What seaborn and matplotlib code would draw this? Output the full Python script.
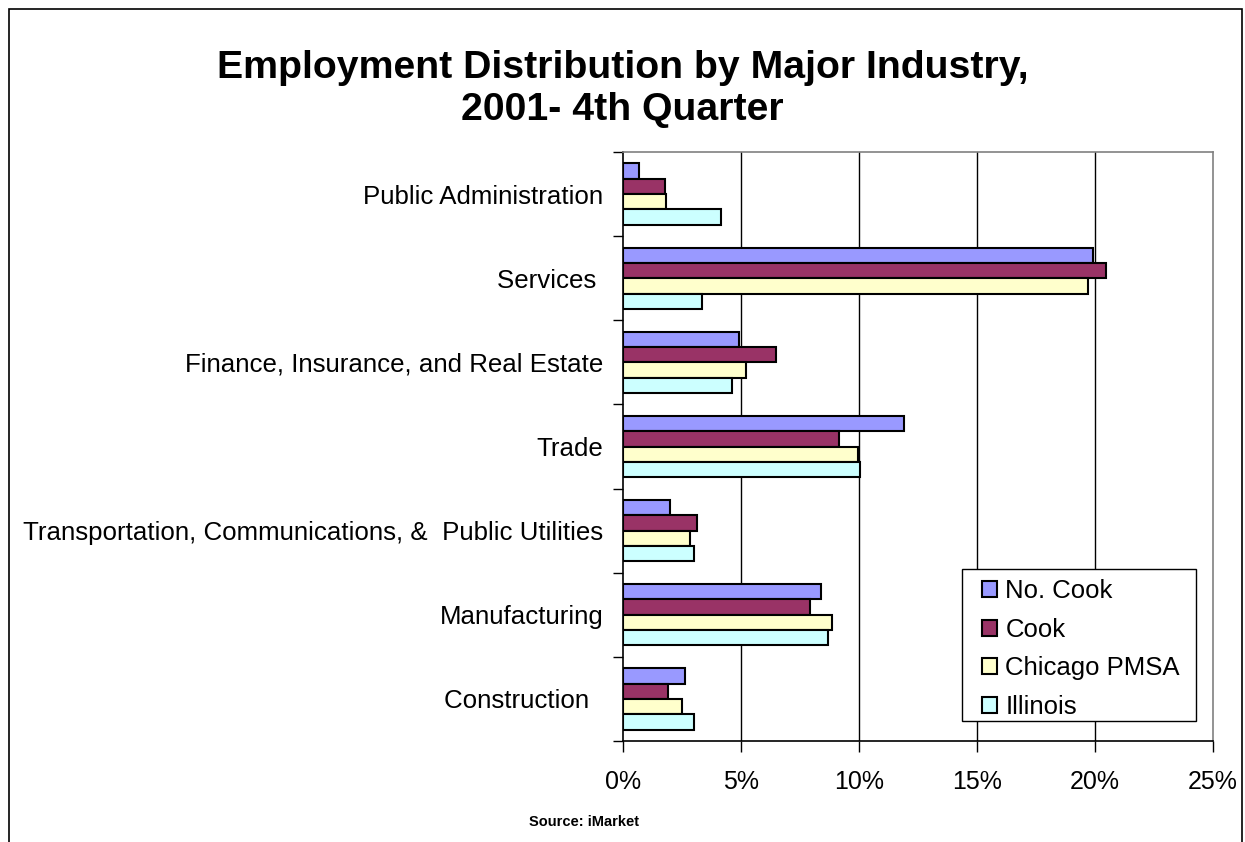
import matplotlib
matplotlib.use("Agg")
import matplotlib.pyplot as plt
from matplotlib.patches import Rectangle
from matplotlib.ticker import FuncFormatter, FixedLocator
import seaborn as sns
import pandas as pd

# Industries, top to bottom
industries = [
    "Public Administration",
    "Services ",
    "Finance, Insurance, and Real Estate",
    "Trade",
    "Transportation, Communications, &  Public Utilities",
    "Manufacturing",
    "Construction  ",
]
regions = ["No. Cook", "Cook", "Chicago PMSA", "Illinois"]

# Share of employment (%) per industry for each region
no_cook = [0.68, 19.9, 4.9, 11.9, 1.98, 8.38, 2.61]
cook = [1.8, 20.45, 6.48, 9.15, 3.14, 7.94, 1.89]
chicago_pmsa = [1.82, 19.7, 5.21, 9.96, 2.83, 8.87, 2.49]
illinois = [4.14, 3.36, 4.63, 10.06, 3.0, 8.69, 3.01]

x_ticks = [0, 5, 10, 15, 20, 25]
colors = ["#9999FF", "#993366", "#FFFFCC", "#CCFFFF"]

series = [no_cook, cook, chicago_pmsa, illinois]
rows = []
for region, vals in zip(regions, series):
    for ind, v in zip(industries, vals):
        rows.append({"Industry": ind, "Region": region, "Share": v})
df = pd.DataFrame(rows)

sns.set_theme(style="white")
plt.rcParams["font.family"] = ["Liberation Sans", "DejaVu Sans"]
plt.rcParams["text.color"] = "black"
plt.rcParams["xtick.color"] = "black"
plt.rcParams["ytick.color"] = "black"
plt.rcParams["xtick.labelcolor"] = "black"
plt.rcParams["ytick.labelcolor"] = "black"

W, H = 1245, 842
fig = plt.figure(figsize=(W / 100, H / 100), dpi=100)
ax = fig.add_axes([623 / W, 1 - 741 / H, (1213 - 623) / W, (741 - 152) / H])

sns.barplot(
    data=df, y="Industry", x="Share", hue="Region",
    order=industries, hue_order=regions, palette=colors,
    orient="h", width=0.73, edgecolor="black", linewidth=1.5,
    saturation=1, ax=ax, legend=True,
)

ax.set_xlim(0, 25)
ax.set_ylim(len(industries) - 0.5, -0.5)
ax.xaxis.set_major_locator(FixedLocator(x_ticks))
ax.xaxis.set_major_formatter(FuncFormatter(lambda v, p: f"{v:.0f}%"))
ax.set_xlabel("")
ax.set_ylabel("")

# vertical gridlines
ax.grid(False)
for t in x_ticks[1:-1]:
    ax.axvline(t, color="black", linewidth=1.0, zorder=0)

# spines
for side in ["top", "right"]:
    ax.spines[side].set_color("#808080")
    ax.spines[side].set_linewidth(1.2)
for side in ["left", "bottom"]:
    ax.spines[side].set_color("black")
    ax.spines[side].set_linewidth(1.2)

# tick marks: x ticks downward, y ticks at category boundaries
ax.tick_params(axis="x", which="major", direction="out", length=8, width=1,
               color="black", labelsize=18, pad=13, bottom=True)
ax.tick_params(axis="y", which="major", length=0, labelsize=18.6, pad=14, left=True)
ax.set_yticks([i - 0.5 for i in range(len(industries) + 1)], minor=True)
ax.tick_params(axis="y", which="minor", direction="out", length=7, width=1,
               color="black", left=True)

# legend: entries without frame, box drawn separately
handles, labels = ax.get_legend_handles_labels()
ax.legend_.remove()
lx0, lx1, ly0, ly1 = 962, 1196, 569, 721
fig.patches.append(Rectangle((lx0 / W, 1 - ly1 / H), (lx1 - lx0) / W, (ly1 - ly0) / H,
                             transform=fig.transFigure, facecolor="white",
                             edgecolor="black", linewidth=1.0, zorder=5))
leg = fig.legend(
    handles, labels, loc="upper left",
    bbox_to_anchor=(982 / W, 1 - 579 / H), bbox_transform=fig.transFigure,
    fontsize=18.5, frameon=False,
    handlelength=0.58, handleheight=0.58, handletextpad=0.33,
    labelspacing=0.57, borderpad=0, borderaxespad=0,
)
leg.set_zorder(6)

# title and source
fig.text(0.5, 1 - 89 / H, "Employment Distribution by Major Industry,\n2001- 4th Quarter",
         ha="center", va="center", fontsize=28.3, fontweight="bold", linespacing=1.2)
fig.text(584 / W, 1 - 822 / H, "Source: iMarket", ha="center", va="center",
         fontsize=10.5, fontweight="bold")

# outer frame
fig.patches.append(Rectangle((9 / W, -0.2), (1242 - 9) / W, 1.2 - 9 / H,
                             transform=fig.transFigure, fill=False,
                             edgecolor="black", linewidth=1.2))

fig.savefig("out.png", dpi=100, facecolor="white")
